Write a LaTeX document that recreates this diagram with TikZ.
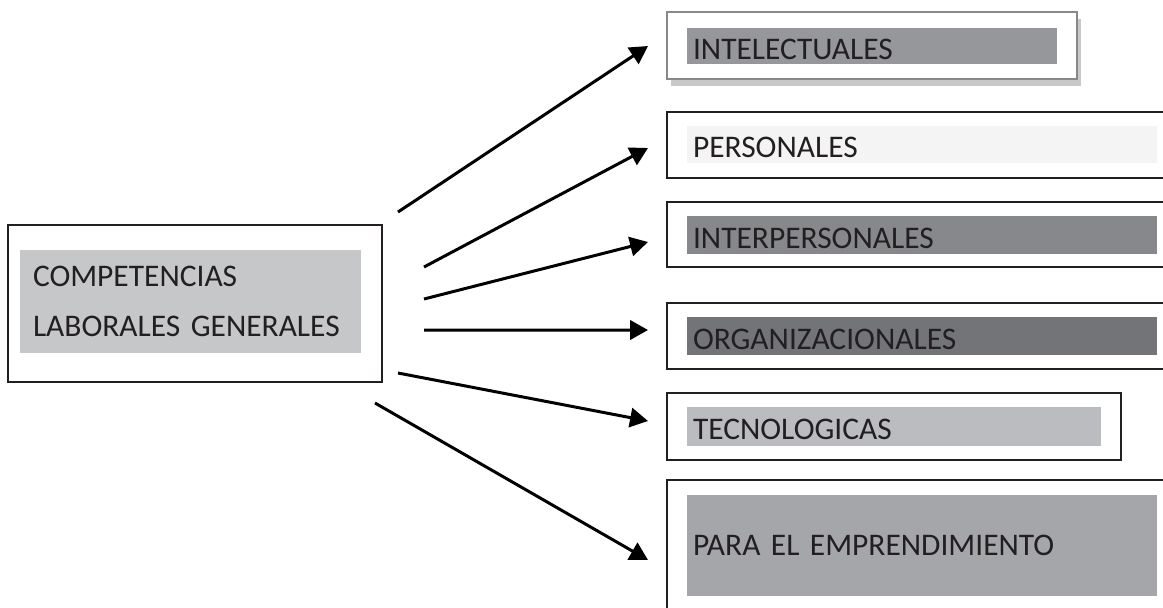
\documentclass[tikz,border=0pt]{standalone}
\usepackage{fontspec}
\setmainfont{Carlito}
\usetikzlibrary{calc,arrows.meta,shadows}
\definecolor{boxline}{HTML}{231F20}
\definecolor{textcol}{HTML}{231F20}
\definecolor{intelline}{HTML}{88888B}
\definecolor{shadowgray}{HTML}{C8C8C8}
\definecolor{clggray}{HTML}{C6C7C9}
\definecolor{intelgray}{HTML}{96979B}
\definecolor{persgray}{HTML}{F4F4F4}
\definecolor{interpgray}{HTML}{87888C}
\definecolor{orggray}{HTML}{737478}
\definecolor{tecgray}{HTML}{BBBCBF}
\definecolor{empgray}{HTML}{A5A6A9}

\begin{document}
\begin{tikzpicture}[outer sep=0pt, >={Triangle[length=10.2pt,width=11pt]},
  frame/.style={draw=boxline, line width=1.1pt, fill=white},
  tag/.style={inner xsep=0.12cm, inner ysep=0pt, align=left, text=textcol,
    text height=0.53cm, text depth=0pt, font=\fontsize{17.9}{28.5}\selectfont}]

\useasboundingbox (0,0) rectangle (23.26,-12.14);
\clip (0,0) rectangle (23.26,-12.14);

% left box
\node[frame, minimum width=7.48cm, minimum height=3.14cm] at (3.9, -6.07) (CLG) {};
\node[tag, fill=clggray, text width=6.30cm, minimum height=2.06cm, inner xsep=0.26cm,
  text height=0.41cm, text depth=1.0cm] at (3.81, -6.03) (CLG_T)
  {COMPETENCIAS\\LABORALES GENERALES};

% right boxes
\node[frame, draw=intelline, line width=1.5pt, minimum width=8.2cm, minimum height=1.34cm,
  general shadow={fill=shadowgray, shadow xshift=0.08cm, shadow yshift=-0.13cm}]
  at (17.44, -0.91) (INTEL) {};
\node[tag, fill=intelgray, text width=7.16cm, minimum height=0.72cm] at (17.44, -0.92) (INTEL_T) {INTELECTUALES};

\node[frame, minimum width=10.2cm, minimum height=1.32cm] at (18.44, -2.9) (PERS) {};
\node[tag, fill=persgray, text width=9.16cm, minimum height=0.74cm] at (18.44, -2.89) (PERS_T) {PERSONALES};

\node[frame, minimum width=10.2cm, minimum height=1.3cm] at (18.44, -4.69) (INTERP) {};
\node[tag, fill=interpgray, text width=9.16cm, minimum height=0.76cm] at (18.44, -4.70) (INTERP_T) {INTERPERSONALES};

\node[frame, minimum width=10.2cm, minimum height=1.32cm] at (18.44, -6.72) (ORG) {};
\node[tag, fill=orggray, text width=9.16cm, minimum height=0.76cm] at (18.44, -6.72) (ORG_T) {ORGANIZACIONALES};

\node[frame, minimum width=9.08cm, minimum height=1.34cm] at (17.88, -8.53) (TEC) {};
\node[tag, fill=tecgray, text width=8.04cm, minimum height=0.78cm] at (17.88, -8.53) (TEC_T) {TECNOLOGICAS};

\node[frame, minimum width=10.2cm, minimum height=2.62cm] at (18.44, -10.91) (EMP) {};
\node[tag, fill=empgray, text width=9.16cm, minimum height=2.02cm, text height=0.41cm] at (18.44, -10.91) (EMP_T) {PARA EL EMPRENDIMIENTO};

% arrows
\draw [->, line width=1.7pt] ($(CLG.east)+(0.32,1.83)$) -- ($(INTEL.west)+(-0.38,-0.01)$);
\draw [->, line width=1.7pt] ($(CLG.east)+(0.84,0.73)$) -- ($(PERS.west)+(-0.38,-0.06)$);
\draw [->, line width=1.7pt] ($(CLG.east)+(0.84,0.09)$) -- ($(INTERP.west)+(-0.38,-0.15)$);
\draw [->, line width=1.7pt] ($(CLG.east)+(0.84,-0.53)$) -- ($(ORG.west)+(-0.38,0.12)$);
\draw [->, line width=1.7pt] ($(CLG.east)+(0.32,-1.39)$) -- ($(TEC.west)+(-0.38,0.11)$);
\draw [->, line width=1.7pt] ($(CLG.east)+(-0.14,-1.99)$) -- ($(EMP.west)+(-0.38,-0.29)$);
\end{tikzpicture}
\end{document}
